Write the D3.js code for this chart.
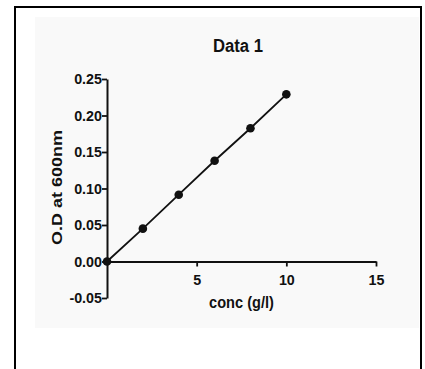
<!DOCTYPE html>
<html>
<head>
<meta charset="utf-8">
<script src="https://cdn.jsdelivr.net/npm/d3@7"></script>
<style>
  body { margin: 0; background: #fff; }
  svg { display: block; }
  .tick text { font-family: Arial, "Liberation Sans", sans-serif; font-weight: bold; font-size: 14.3px; fill: #111; }
</style>
</head>
<body>
<svg id="chart"></svg>
<script>
// data
var concs = [0, 2, 4, 6, 8, 10];
var ods = [0, 0.045, 0.0915, 0.138, 0.1825, 0.229];
var xTicks = [5, 10, 15];
var yTicks = [-0.05, 0, 0.05, 0.10, 0.15, 0.20, 0.25];

var width = 425, height = 369;
var svg = d3.select("#chart").attr("width", width).attr("height", height);

// outer frame + faint panel
svg.append("rect")
  .attr("x", 15).attr("y", 7)
  .attr("width", 406).attr("height", 380)
  .style("fill", "#fff").style("stroke", "#000").style("stroke-width", 2);
svg.append("rect")
  .attr("x", 35).attr("y", 17)
  .attr("width", 384).attr("height", 311)
  .style("fill", "#f9f9f9");

var x = d3.scaleLinear().domain([0, 15]).range([107, 376]);
var y = d3.scaleLinear().domain([-0.05, 0.25]).range([298, 79]);

// plain hyphen for negatives, like the original
var fmtY = d3.formatLocale({decimal: ".", thousands: ",", grouping: [3], currency: ["", ""], minus: "-"}).format(".2f");

var xAxis = d3.axisBottom(x).tickValues(xTicks).tickSize(5).tickSizeOuter(0).tickFormat(d3.format("d"));
var yAxis = d3.axisLeft(y).tickValues(yTicks).tickSize(5).tickSizeOuter(0).tickFormat(fmtY);

var gy = svg.append("g").attr("transform", "translate(" + x(0) + ",0)").call(yAxis);
var gx = svg.append("g").attr("transform", "translate(0," + y(0) + ")").call(xAxis);

[gx, gy].forEach(function(g) {
  g.select(".domain").style("stroke", "#111").style("stroke-width", 2);
  g.selectAll(".tick line").style("stroke", "#111").style("stroke-width", 1.8);
});
gx.selectAll(".tick text").attr("y", 11).attr("dy", "0.85em");
gy.selectAll(".tick text").attr("x", -5);

// line through the points
var line = d3.line()
  .x(function(d, i) { return x(concs[i]); })
  .y(function(d) { return y(d); });
svg.append("path")
  .datum(ods)
  .attr("d", line)
  .style("fill", "none")
  .style("stroke", "#111")
  .style("stroke-width", 1.8);

svg.selectAll("circle.pt")
  .data(ods)
  .enter().append("circle")
  .attr("class", "pt")
  .attr("cx", function(d, i) { return x(concs[i]); })
  .attr("cy", function(d) { return y(d); })
  .attr("r", 4.3)
  .style("fill", "#111");

// titles (source image is a bit stretched vertically)
svg.append("text")
  .attr("transform", "translate(238,51.5) scale(1,1.15)")
  .attr("text-anchor", "middle")
  .style("font-family", "Arial, 'Liberation Sans', sans-serif")
  .style("font-weight", "bold").style("font-size", "16.7px")
  .style("fill", "#111")
  .text("Data 1");

svg.append("text")
  .attr("transform", "translate(241.5,308) scale(1,1.1)")
  .attr("text-anchor", "middle")
  .style("font-family", "Arial, 'Liberation Sans', sans-serif")
  .style("font-weight", "bold").style("font-size", "14.6px")
  .style("fill", "#111")
  .text("conc (g/l)");

svg.append("text")
  .attr("transform", "translate(62,187.5) scale(1,1.16) rotate(-90)")
  .attr("text-anchor", "middle")
  .style("font-family", "Arial, 'Liberation Sans', sans-serif")
  .style("font-weight", "bold").style("font-size", "15.5px")
  .style("fill", "#111")
  .text("O.D at 600nm");
</script>
</body>
</html>
